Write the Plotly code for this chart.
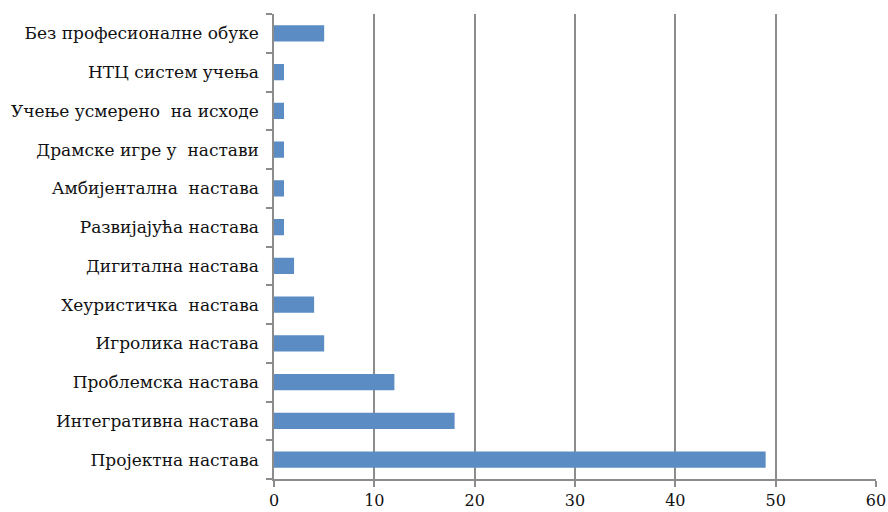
import plotly.graph_objects as go

categories = [
    "Пројектна настава",
    "Интегративна настава",
    "Проблемска настава",
    "Игролика настава",
    "Хеуристичка  настава",
    "Дигитална настава",
    "Развијајућа настава",
    "Амбијентална  настава",
    "Драмске игре у  настави",
    "Учење усмерено  на исходе",
    "НТЦ систем учења",
    "Без професионалне обуке",
]
values = [49, 18, 12, 5, 4, 2, 1, 1, 1, 1, 1, 5]
x_ticks = [0, 10, 20, 30, 40, 50, 60]

labels = [c.replace("  ", " \u00a0") for c in categories]

fig = go.Figure(
    go.Bar(
        x=values,
        y=labels,
        orientation="h",
        marker=dict(color="#5B8CC4", line=dict(width=0)),
        width=0.42,
    )
)

font_family = "DejaVu Serif"

fig.update_layout(
    width=888,
    height=512,
    margin=dict(l=274, r=12, t=14, b=33),
    paper_bgcolor="white",
    plot_bgcolor="white",
    showlegend=False,
    font=dict(family=font_family, size=17, color="#111111"),
)

fig.update_xaxes(
    range=[0, 60],
    tickvals=x_ticks,
    ticktext=[str(t) for t in x_ticks],
    showgrid=True,
    gridcolor="#8C8C8C",
    gridwidth=1.5,
    showline=True,
    linecolor="#8C8C8C",
    linewidth=1.5,
    ticks="outside",
    ticklen=6,
    tickcolor="#8C8C8C",
    tickwidth=1.5,
    zeroline=False,
    automargin=False,
    tickfont=dict(family=font_family, size=16, color="#111111"),
)

fig.update_yaxes(
    type="category",
    categoryorder="array",
    categoryarray=labels,
    range=[-0.5, len(labels) - 0.5],
    showline=True,
    linecolor="#8C8C8C",
    linewidth=1.5,
    ticks="outside",
    tickson="boundaries",
    ticklen=6,
    tickcolor="#8C8C8C",
    tickwidth=1.5,
    showgrid=False,
    automargin=False,
    ticklabelstandoff=10,
    tickfont=dict(family=font_family, size=17, color="#111111"),
)

fig.write_html("out.html")
